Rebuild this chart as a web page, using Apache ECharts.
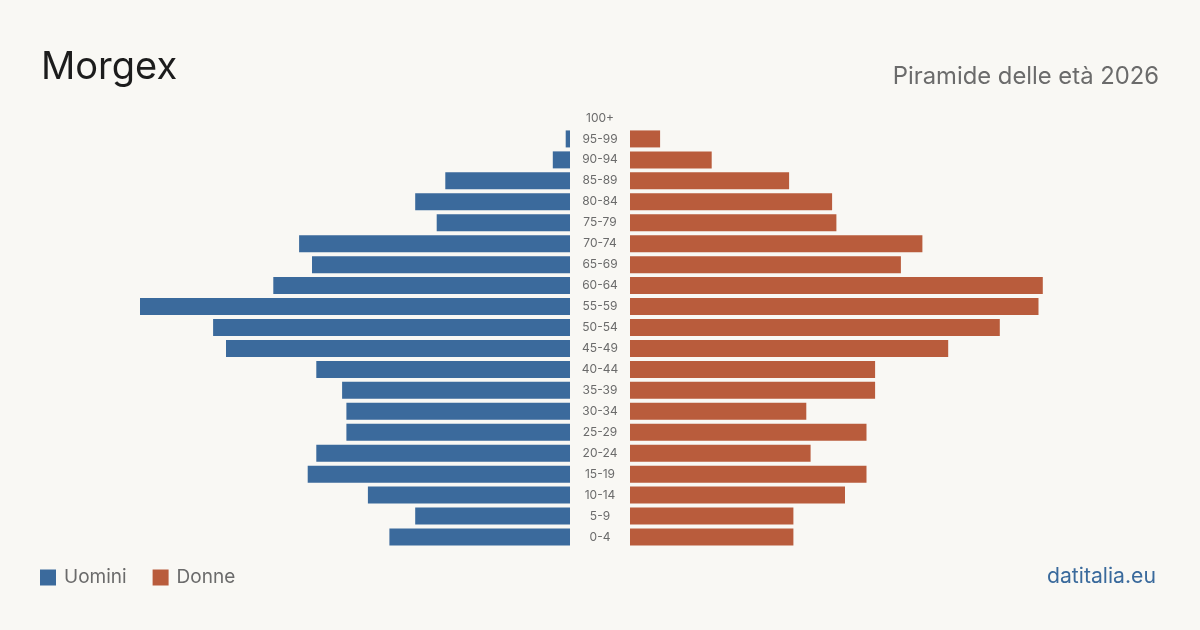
<!DOCTYPE html>
<html><head><meta charset="utf-8">
<script src="https://cdn.jsdelivr.net/npm/echarts@6/dist/echarts.min.js"></script>
<style>html,body{margin:0;padding:0;background:#f9f8f4;}#c{width:1200px;height:630px;}</style>
</head><body><div id="c"></div>
<script>
const categories = ['100+','95-99','90-94','85-89','80-84','75-79','70-74','65-69','60-64','55-59','50-54','45-49','40-44','35-39','30-34','25-29','20-24','15-19','10-14','5-9','0-4'];
const uomini = [0,1,4,29,36,31,63,60,69,100,83,80,59,53,52,52,59,61,47,36,42];
const donne  = [0,7,19,37,47,48,68,63,96,95,86,74,57,57,41,55,42,55,50,38,38];
const title = 'Morgex';
const subtitle = 'Piramide delle età 2026';
const source = 'datitalia.eu';
const maxVal = 100;

const font = 'Inter, "Noto Sans", sans-serif';
const chart = echarts.init(document.getElementById('c'));
chart.setOption({
  backgroundColor: '#f9f8f4',
  animation: false,
  textStyle: { fontFamily: font },
  title: [
    { text: title, left: 41, top: 49, padding: 0, textStyle: { fontFamily: font, fontSize: 38, fontWeight: 'normal', color: '#1c1c1c' } },
    { text: subtitle, right: 41, top: 65, padding: 0, textStyle: { fontFamily: font, fontSize: 23.8, fontWeight: 'normal', color: '#6b6b6b' } },
    { text: source, right: 44, top: 566, padding: 0, textStyle: { fontFamily: font, fontSize: 21.2, fontWeight: 'normal', color: '#3a6a9c' } }
  ],
  legend: {
    left: 40, top: 568, padding: 0, itemWidth: 16, itemHeight: 16, itemGap: 26,
    icon: 'rect',
    textStyle: { fontFamily: font, fontSize: 19, color: '#6b6b6b', padding: [0, 0, 0, 3] },
    data: ['Uomini', 'Donne']
  },
  grid: [
    { left: 140, right: 630, top: 107.5, height: 440 },
    { left: 630, right: 140, top: 107.5, height: 440 }
  ],
  xAxis: [
    { gridIndex: 0, type: 'value', min: 0, max: maxVal, inverse: true, show: false },
    { gridIndex: 1, type: 'value', min: 0, max: maxVal, show: false }
  ],
  yAxis: [
    { gridIndex: 0, type: 'category', data: categories, inverse: true, position: 'right',
      axisLine: { show: false }, axisTick: { show: false },
      axisLabel: { align: 'center', margin: 30, fontSize: 12, color: '#6b6b6b', fontFamily: font } },
    { gridIndex: 1, type: 'category', data: categories, inverse: true, show: false }
  ],
  series: [
    { name: 'Uomini', type: 'bar', xAxisIndex: 0, yAxisIndex: 0, data: uomini, barWidth: 17, itemStyle: { color: '#3b6a9c' } },
    { name: 'Donne', type: 'bar', xAxisIndex: 1, yAxisIndex: 1, data: donne, barWidth: 17, itemStyle: { color: '#b95c3c' } }
  ]
});
</script></body></html>
